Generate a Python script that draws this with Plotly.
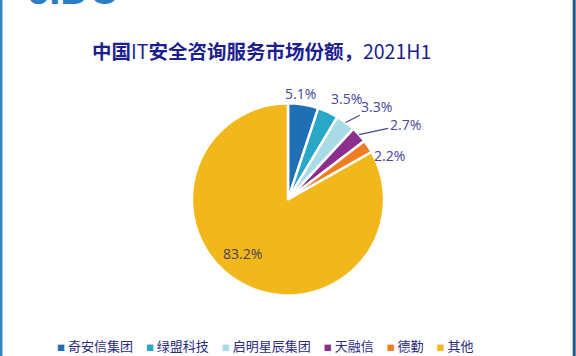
import math
import plotly.graph_objects as go

# ---- data ----
vendors = ["奇安信集团", "绿盟科技", "启明星辰集团", "天融信", "德勤", "其他"]
shares = [5.1, 3.5, 3.3, 2.7, 2.2, 83.2]
title_cn_1 = "中国"
title_lat_1 = "IT"
title_cn_2 = "安全咨询服务市场份额，"
title_lat_2 = "2021H1"

# ---- style ----
colors = ["#1f6fb4", "#2aa6c6", "#a9dbe6", "#8b2f8f", "#f07d22", "#f2b81b"]
# label placement (pixel offsets of label centre from the slice edge) and leader-line flags
label_dx = [-3, 18, 31, 46, 21, -16]
label_dy = [-11, -14, -16, -10, 9, 4]
label_line = [False, False, True, True, False, False]
label_rfac = [1.0, 1.0, 1.0, 1.0, 1.0, 0.6]

W, H = 576, 356
navy = "#1d1f8e"
label_color = "#45459a"
dom_y = [0.17, 0.71]

fig = go.Figure()
fig.add_trace(go.Pie(
    labels=vendors,
    values=shares,
    sort=False,
    direction="clockwise",
    rotation=0,
    marker=dict(colors=colors, line=dict(color="white", width=2.5)),
    textinfo="none",
    hovertemplate="%{label}: %{value:.1f}%<extra></extra>",
    showlegend=False,
    domain=dict(x=[0.0, 1.0], y=dom_y),
))

# data labels positioned from each slice's mid angle
radius_px = (dom_y[1] - dom_y[0]) * H / 2
cy = (dom_y[0] + dom_y[1]) / 2
total = sum(shares)
cum = 0.0
for i, v in enumerate(shares):
    mid = (cum + v / 2) / total * 2 * math.pi
    cum += v
    r = radius_px * label_rfac[i]
    xe = 0.5 + r * math.sin(mid) / W
    ye = cy + r * math.cos(mid) / H
    col = "#4a4255" if i == len(shares) - 1 else label_color
    fig.add_annotation(
        x=xe, y=ye, xref="paper", yref="paper",
        text=f"{v:.1f}%",
        showarrow=True, arrowhead=0, arrowwidth=1.2,
        arrowcolor=label_color if label_line[i] else "rgba(0,0,0,0)",
        ax=label_dx[i], ay=label_dy[i], standoff=0,
        font=dict(family="Open Sans, sans-serif", size=14, color=col),
    )

# legend row built as text
items = []
for name, col in zip(vendors, colors):
    items.append(f'<span style="font-size:8px;color:{col}">■</span>\u00a0{name}')
legend_text = "\u2003".join(items)
fig.add_annotation(
    x=265 / W, y=1 - 345 / H, xref="paper", yref="paper", text=legend_text,
    showarrow=False, xanchor="center", yanchor="middle",
    font=dict(family="Noto Sans CJK SC, sans-serif", size=13, color="#2b2b80"),
)

# title
title_text = f"<b>{title_cn_1}</b>{title_lat_1}<b>{title_cn_2}</b>{title_lat_2}"
fig.add_annotation(
    x=261 / W, y=1 - 50 / H, xref="paper", yref="paper", text=title_text,
    showarrow=False, xanchor="center", yanchor="middle",
    font=dict(family="Noto Sans CJK SC, sans-serif", size=19.5, color=navy),
)

# cropped logo at the top edge
fig.add_annotation(
    x=25 / W, y=1 - 14 / H, xref="paper", yref="paper", text="<b>eIDC</b>",
    showarrow=False, xanchor="left", yanchor="bottom",
    font=dict(family="Liberation Sans, sans-serif", size=40, color="#2b7cc6"),
)

# frame lines of the image
fig.add_shape(type="line", xref="paper", yref="paper", x0=1.2 / W, x1=1.2 / W, y0=0, y1=1,
              line=dict(color="#3584c6", width=2.5))
fig.add_shape(type="line", xref="paper", yref="paper", x0=1 - 1.8 / W, x1=1 - 1.8 / W, y0=0, y1=1,
              line=dict(color="#1e5b85", width=3))

fig.update_layout(
    width=W, height=H,
    margin=dict(l=0, r=0, t=0, b=0, autoexpand=False),
    paper_bgcolor="white",
    plot_bgcolor="white",
)

fig.write_html(
    "out.html",
    config={"displayModeBar": False},
    post_script="document.body.style.margin='0';document.body.style.overflow='hidden';",
)
